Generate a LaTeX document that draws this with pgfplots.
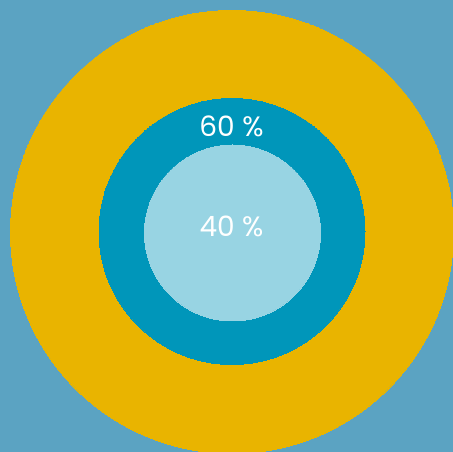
\documentclass[border=0pt]{standalone}
\usepackage{fontspec}
\setmainfont{Poppins}
\usepackage{pgfplots}
\pgfplotsset{compat=1.18}
\definecolor{bg}{HTML}{5BA3C2}
\definecolor{gold}{HTML}{E9B400}
\definecolor{teal}{HTML}{0096BA}
\definecolor{light}{HTML}{98D4E3}
\begin{document}
\begin{tikzpicture}
\begin{axis}[
  width=453bp, height=452bp, scale only axis,
  xmin=0, xmax=453, ymin=0, ymax=452,
  hide axis, clip marker paths=true,
]
\addplot[fill=bg, draw=none] coordinates {(0,0) (453,0) (453,452) (0,452)} -- cycle;
\addplot[only marks, mark=*, color=gold, mark size=221.5bp, mark options={draw=gold, fill=gold, line width=0pt}] coordinates {(232,220)};
\addplot[only marks, mark=*, color=teal, mark size=133bp, mark options={draw=teal, fill=teal, line width=0pt}] coordinates {(232,220.5)};
\addplot[only marks, mark=*, color=light, mark size=88bp, mark options={draw=light, fill=light, line width=0pt}] coordinates {(232.5,219)};
\node[text=white, font=\fontsize{28bp}{32bp}\selectfont, anchor=center] at (axis cs:231.5,325.5) {60 \%};
\node[text=white, font=\fontsize{28bp}{32bp}\selectfont, anchor=center] at (axis cs:231.5,225.5) {40 \%};
\end{axis}
\pgfresetboundingbox
\path (current axis.south west) rectangle (current axis.north east);
\end{tikzpicture}
\end{document}
